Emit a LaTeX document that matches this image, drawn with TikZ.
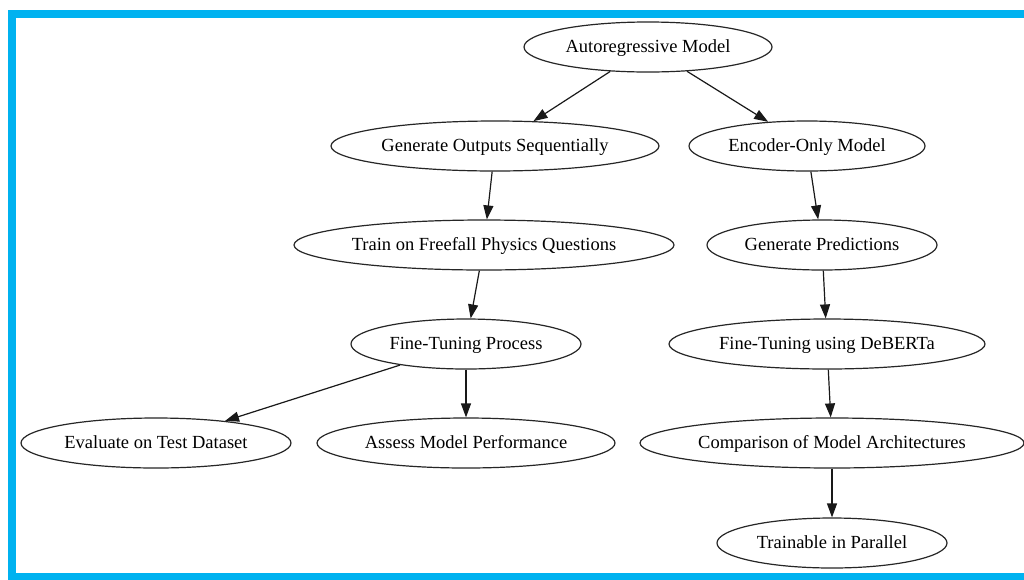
\documentclass[tikz,border=0pt]{standalone}
\usepackage{fontspec}
\setmainfont{Liberation Serif}
\usetikzlibrary{shapes.geometric,arrows.meta}
\definecolor{framecol}{RGB}{0,178,240}
\tikzset{
  nd/.style={ellipse,draw=black!85,line width=1.2pt,inner sep=0pt,
    minimum height=50pt,text height=15pt,text depth=4pt,
    font=\fontsize{18.5pt}{20pt}\selectfont},
  edge/.style={draw=black!90,line width=1.2pt,-{Triangle[length=14pt,width=10pt]}}
}
\begin{document}
\begin{tikzpicture}[x=1pt,y=-1pt]
\useasboundingbox (0,0) rectangle (1024,579);
\fill[white] (0,0) rectangle (1024,579);
\draw[framecol,line width=8pt] (12,14) rectangle (1040,577);

\node[nd,minimum width=248pt] (ar) at (648,47) {Autoregressive Model};
\node[nd,minimum width=328pt] (gos) at (495,146) {Generate Outputs Sequentially};
\node[nd,minimum width=236pt] (eo) at (807,146) {Encoder-Only Model};
\node[nd,minimum width=380pt] (tf) at (484,245) {Train on Freefall Physics Questions};
\node[nd,minimum width=230pt] (gp) at (822,245) {Generate Predictions};
\node[nd,minimum width=230pt] (ftp) at (466,344) {Fine-Tuning Process};
\node[nd,minimum width=316pt] (ftd) at (827,344) {Fine-Tuning using DeBERTa};
\node[nd,minimum width=270pt] (ev) at (156,443) {Evaluate on Test Dataset};
\node[nd,minimum width=298pt] (as) at (466,443) {Assess Model Performance};
\node[nd,minimum width=384pt] (cm) at (832,443) {Comparison of Model Architectures};
\node[nd,minimum width=230pt] (tp) at (832,543) {Trainable in Parallel};

\draw[edge] (ar) -- (gos);
\draw[edge] (ar) -- (eo);
\draw[edge] (gos) -- (tf);
\draw[edge] (eo) -- (gp);
\draw[edge] (tf) -- (ftp);
\draw[edge] (gp) -- (ftd);
\draw[edge] (ftp) -- (ev);
\draw[edge] (ftp) -- (as);
\draw[edge] (ftd) -- (cm);
\draw[edge] (cm) -- (tp);
\end{tikzpicture}
\end{document}
